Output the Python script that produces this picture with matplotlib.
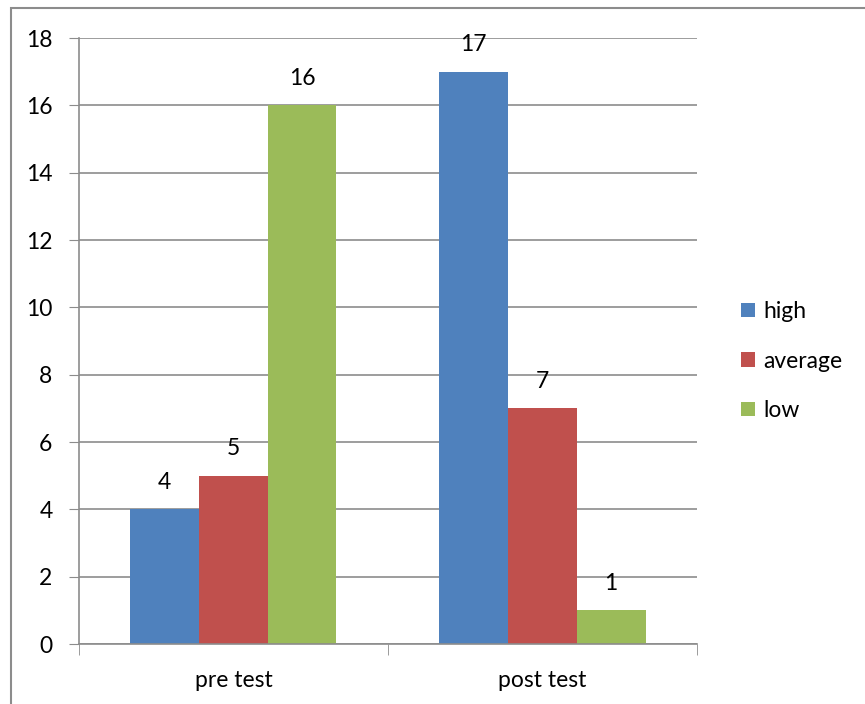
import numpy as np
import matplotlib.pyplot as plt
from matplotlib.patches import Rectangle

# --- datos ---
categories = ['pre test', 'post test']
series_names = ['high', 'average', 'low']
high = [4, 17]
average = [5, 7]
low = [16, 1]
colors = ['#4F81BD', '#C0504D', '#9BBB59']

plt.rcParams['font.family'] = ['Lato', 'DejaVu Sans']
fs = 16.5

fig = plt.figure(figsize=(8.65, 7.04), dpi=100)
ax = fig.add_axes([0.0913, 0.0852, 0.8058 - 0.0913, 0.946 - 0.0852])

# marco exterior del gráfico
fig.patches.append(Rectangle((11 / 865, -0.05), 1.2, 1.05 - 8 / 704,
                             transform=fig.transFigure, fill=False,
                             edgecolor='#8c8c8c', linewidth=1.5))

x = np.arange(len(categories))
w = 1 / 4.5
for i, (name, vals) in enumerate(zip(series_names, [high, average, low])):
    pos = x + (i - 1) * w
    bars = ax.bar(pos, vals, width=w, color=colors[i], label=name, zorder=3)
    for b, v in zip(bars, vals):
        ax.annotate(str(v), (b.get_x() + b.get_width() / 2, v),
                    xytext=(0, 19.5), textcoords='offset points',
                    ha='center', va='center', fontsize=fs)

ax.set_xlim(-0.5, 1.5)
ax.set_ylim(0, 18)
ax.set_yticks(range(0, 19, 2))
ax.set_xticks(x)
ax.set_xticklabels(categories, fontsize=fs)
ax.tick_params(axis='y', labelsize=fs, length=7, color='#8c8c8c', pad=12)
ax.tick_params(axis='x', length=0, pad=19)
# ticks en los límites de categoría
ax.set_xticks([-0.5, 0.5, 1.5], minor=True)
ax.tick_params(axis='x', which='minor', length=8, color='#8c8c8c')

ax.grid(axis='y', color='#8c8c8c', linewidth=1.2, zorder=0)
for s in ['top', 'right']:
    ax.spines[s].set_visible(False)
for s in ['left', 'bottom']:
    ax.spines[s].set_color('#8c8c8c')
    ax.spines[s].set_linewidth(1.2)
ax.spines['bottom'].set_zorder(4)

ax.legend(loc='center left', bbox_to_anchor=(1.038, 0.467), frameon=False,
          fontsize=fs, handlelength=0.6, handleheight=0.6, handletextpad=0.35,
          labelspacing=1.25)

fig.savefig('out.png', dpi=100)
